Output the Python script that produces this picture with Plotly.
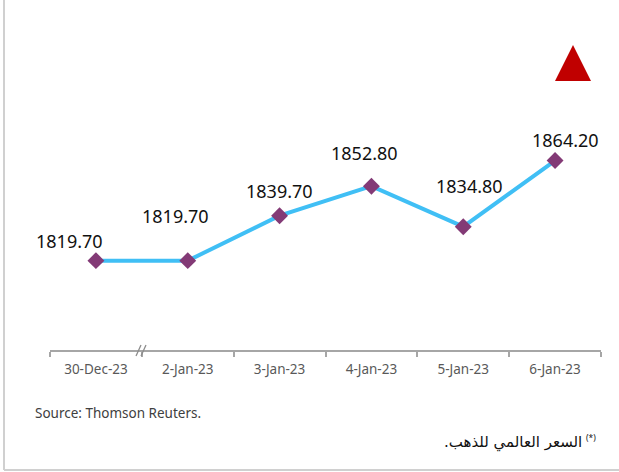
import plotly.graph_objects as go

dates = ["30-Dec-23", "2-Jan-23", "3-Jan-23", "4-Jan-23", "5-Jan-23", "6-Jan-23"]
prices = [1819.70, 1819.70, 1839.70, 1852.80, 1834.80, 1864.20]
label_texts = ["1819.70", "1819.70", "1839.70", "1852.80", "1834.80", "1864.20"]
source_text = "Source: Thomson Reuters."
note_text = "السعر العالمي للذهب.\u200f"
note_mark = "(*)"

# label offsets (pixels)
label_dx = [-26, -12, 0, -7, 6, 10]
label_dy = [20, 45, 25, 33, 41, 21]

W, H = 619, 472
L, R, T, B = 50, 18, 80, 122
pw, ph = W - L - R, H - T - B


def px(x):
    return (x - L) / pw


def py(y):
    return (H - B - y) / ph


fig = go.Figure()
fig.add_trace(go.Scatter(
    x=dates, y=prices, mode="lines+markers",
    line=dict(color="#40BFF5", width=4),
    marker=dict(symbol="diamond", size=13, color="#833A76",
                line=dict(width=0)),
    hoverinfo="skip", showlegend=False,
))

for d, v, t, dx, dy in zip(dates, prices, label_texts, label_dx, label_dy):
    fig.add_annotation(x=d, y=v, text=t, showarrow=False, xshift=dx, yshift=dy,
                       font=dict(family="Noto Sans", size=18, color="#111111"))

shapes = []
# border (left & bottom)
shapes.append(dict(type="line", xref="paper", yref="paper", x0=px(4), x1=px(4),
                   y0=py(0), y1=py(470), line=dict(color="#D0D0D0", width=2)))
shapes.append(dict(type="line", xref="paper", yref="paper", x0=px(4), x1=px(619),
                   y0=py(470), y1=py(470), line=dict(color="#D0D0D0", width=2)))
# axis break marks
for off in (-3, 2):
    shapes.append(dict(type="line", xref="paper", yref="paper",
                       x0=px(139 + off), x1=px(144 + off), y0=py(356), y1=py(345),
                       line=dict(color="#8C8C8C", width=1.3)))
# red triangle
tri = "M {} {} L {} {} L {} {} Z".format(px(555), py(81), px(573), py(45), px(591), py(81))
shapes.append(dict(type="path", xref="paper", yref="paper", path=tri,
                   fillcolor="#C00000", line=dict(color="#C00000", width=0)))

fig.add_annotation(xref="paper", yref="paper", x=px(33), y=py(413), xanchor="left",
                   yanchor="middle", text=source_text, showarrow=False,
                   font=dict(family="Noto Sans", size=13.5, color="#404040"))
fig.add_annotation(xref="paper", yref="paper", x=px(584), y=py(442), xanchor="right",
                   yanchor="middle", text=note_text, showarrow=False,
                   font=dict(family="DejaVu Sans", size=15, color="#111111"))
fig.add_annotation(xref="paper", yref="paper", x=px(598), y=py(437), xanchor="right",
                   yanchor="middle", text=note_mark, showarrow=False,
                   font=dict(family="Noto Sans", size=8.5, color="#111111"))

fig.update_layout(
    width=W, height=H,
    margin=dict(l=L, r=R, t=T, b=B),
    paper_bgcolor="white", plot_bgcolor="white",
    shapes=shapes,
    xaxis=dict(type="category", range=[-0.5, 5.5], showgrid=False, zeroline=False,
               showline=True, linecolor="#A6A6A6", linewidth=2,
               ticks="outside", tickson="boundaries", ticklen=5, tickcolor="#A6A6A6",
               tickwidth=1.5, ticklabelstandoff=6,
               tickfont=dict(family="Noto Sans", size=13.5, color="#595959")),
    yaxis=dict(range=[1780, 1900], visible=False, showgrid=False, zeroline=False),
)

fig.write_html("out.html", config={"displayModeBar": False},
               post_script="document.body.style.margin='0';")
